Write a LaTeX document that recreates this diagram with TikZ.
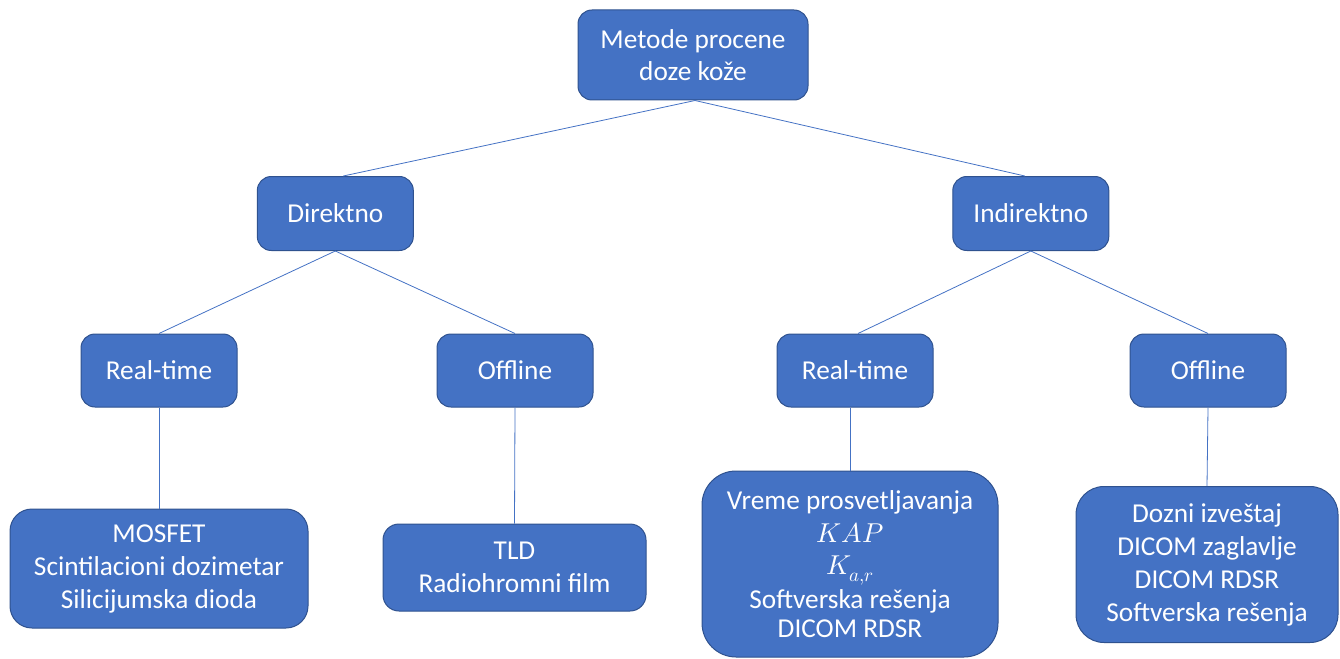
\documentclass[tikz,border=0pt]{standalone}
\usepackage{fontspec}
\usepackage{unicode-math}
\setmainfont{Carlito}
\setmathfont{Latin Modern Math}
\definecolor{boxfill}{HTML}{4472C4}
\definecolor{boxdraw}{HTML}{2F528F}
\definecolor{linec}{HTML}{4472C4}
\begin{document}
\begin{tikzpicture}[x=1pt,y=-1pt,
  bx/.style={draw=boxdraw,line width=1pt,fill=boxfill,text=white,rounded corners=14pt,
    align=center,inner sep=0pt,font=\fontsize{27.3}{33}\selectfont},
  conn/.style={draw=linec,line width=0.8pt}]
\useasboundingbox (0,0) rectangle (1340,658);
\node[bx,minimum width=230pt,minimum height=90pt] (top) at (693,55) {Metode procene\\[-1pt]doze kože};
\node[bx,minimum width=156pt,minimum height=74pt] (dir) at (335.3,213.5) {Direktno};
\node[bx,minimum width=156pt,minimum height=74pt] (ind) at (1030.8,213.5) {Indirektno};
\node[bx,minimum width=156pt,minimum height=73pt] (rtl) at (159,370.5) {Real-time};
\node[bx,minimum width=156pt,minimum height=73pt] (offl) at (515,370.5) {Offline};
\node[bx,minimum width=156pt,minimum height=73pt] (rtr) at (855,370.5) {Real-time};
\node[bx,minimum width=156pt,minimum height=73pt] (offr) at (1208,370.5) {Offline};
\node[bx,rounded corners=22pt,minimum width=298pt,minimum height=119pt] (mos) at (159,568.5) {MOSFET\\Scintilacioni dozimetar\\Silicijumska dioda};
\node[bx,rounded corners=16pt,minimum width=263pt,minimum height=87pt] (tld) at (514.5,567.5) {TLD\\Radiohromni film};
\node[bx,rounded corners=34pt,minimum width=296pt,minimum height=186pt] (vre) at (850,564) {Vreme prosvetljavanja\\$KAP$\\[-1pt]$K_{a,r}$\\[1pt]Softverska rešenja\\[-4pt]DICOM RDSR};
\node[bx,rounded corners=28pt,minimum width=262pt,minimum height=156pt] (doz) at (1207,564.5) {Dozni izveštaj\\DICOM zaglavlje\\DICOM RDSR\\Softverska rešenja};
\draw[conn] ([xshift=2pt]top.south) -- ([xshift=8pt]dir.north);
\draw[conn] ([xshift=2pt]top.south) -- ([xshift=-6pt]ind.north);
\draw[conn] (dir.south) -- (rtl.north);
\draw[conn] (dir.south) -- (offl.north);
\draw[conn] (ind.south) -- ([xshift=3pt]rtr.north);
\draw[conn] (ind.south) -- (offr.north);
\draw[conn] (rtl.south) -- (mos.north);
\draw[conn] (offl.south) -- (tld.north);
\draw[conn] (vre.north |- rtr.south) -- (vre.north);
\draw[conn] (offr.south) -- (doz.north);
\end{tikzpicture}
\end{document}
